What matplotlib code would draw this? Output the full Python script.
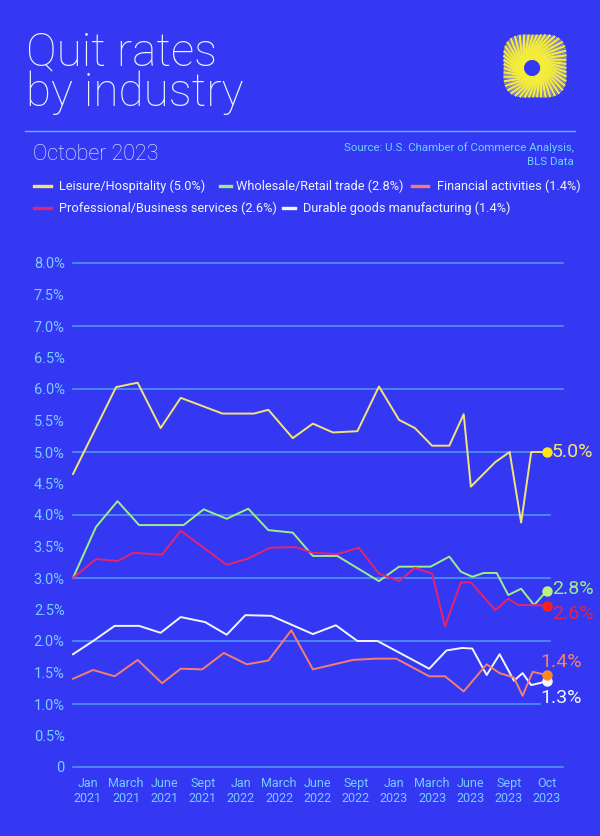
import numpy as np
import matplotlib.pyplot as plt
from matplotlib.lines import Line2D

# Colours
bg = '#3438F2'
grid_col = '#4F9CF6'
tick_col = '#78CCFF'
text_col = '#EEF4FF'

# Data: month index from Jan 2021 (0) to Oct 2023 (33), quit rate in %
leisure_x = [0, 3.0, 4.5, 6.1, 7.5, 10.4, 12.6, 13.6, 15.3, 16.7, 18.1, 19.8, 21.3, 22.7,
             23.8, 25.0, 26.2, 27.2, 27.7, 29.4, 30.4, 31.2, 31.9, 33.0]
leisure_y = [4.65, 6.03, 6.10, 5.38, 5.86, 5.61, 5.61, 5.67, 5.22, 5.45, 5.31, 5.33, 6.04, 5.51,
             5.38, 5.10, 5.10, 5.60, 4.45, 4.84, 5.00, 3.88, 5.00, 5.00]

retail_x = [0, 1.6, 3.1, 4.6, 7.7, 9.1, 10.7, 12.2, 13.6, 15.3, 16.7, 18.4, 21.3, 22.7,
            24.9, 26.2, 27.0, 27.8, 28.6, 29.5, 30.3, 31.2, 32.1, 33.0]
retail_y = [3.00, 3.81, 4.22, 3.84, 3.84, 4.09, 3.94, 4.10, 3.76, 3.72, 3.35, 3.35, 2.95, 3.18,
            3.18, 3.34, 3.10, 3.02, 3.08, 3.08, 2.73, 2.83, 2.57, 2.80]

prof_x = [0, 1.6, 3.1, 4.2, 6.2, 7.5, 10.7, 12.2, 13.7, 15.5, 16.7, 18.4, 19.9, 21.3, 22.7,
          23.8, 25.0, 25.9, 27.0, 27.7, 29.4, 30.3, 31.0, 32.1, 33.0]
prof_y = [3.00, 3.30, 3.27, 3.40, 3.37, 3.75, 3.21, 3.31, 3.48, 3.49, 3.40, 3.38, 3.48, 3.07, 2.95,
          3.16, 3.07, 2.23, 2.93, 2.93, 2.49, 2.67, 2.57, 2.57, 2.56]

durable_x = [0, 1.4, 2.9, 4.6, 6.1, 7.5, 9.2, 10.7, 12.0, 13.8, 16.7, 18.3, 19.8, 21.2,
             24.8, 26.0, 27.1, 27.8, 28.8, 29.7, 30.7, 31.3, 31.9, 33.0]
durable_y = [1.79, 2.00, 2.24, 2.24, 2.13, 2.38, 2.30, 2.10, 2.41, 2.40, 2.11, 2.25, 2.00, 2.00,
             1.56, 1.85, 1.89, 1.88, 1.46, 1.79, 1.37, 1.49, 1.30, 1.36]

fin_x = [0, 1.4, 2.9, 4.5, 6.2, 7.5, 9.0, 10.5, 12.1, 13.6, 15.2, 16.7, 19.5, 21.1, 22.5,
         24.8, 25.9, 27.2, 28.8, 29.7, 30.7, 31.3, 32.0, 33.0]
fin_y = [1.40, 1.54, 1.44, 1.70, 1.33, 1.56, 1.55, 1.81, 1.63, 1.69, 2.17, 1.55, 1.70, 1.72, 1.72,
         1.44, 1.44, 1.20, 1.63, 1.49, 1.42, 1.13, 1.51, 1.46]

tick_labels = ['Jan\n2021', 'March\n2021', 'June\n2021', 'Sept\n2021', 'Jan\n2022', 'March\n2022',
               'June\n2022', 'Sept\n2022', 'Jan\n2023', 'March\n2023', 'June\n2023', 'Sept\n2023',
               'Oct\n2023']
y_ticks = [0, 0.5, 1, 1.5, 2, 2.5, 3, 3.5, 4, 4.5, 5, 5.5, 6, 6.5, 7, 7.5, 8]
end_labels = ['5.0%', '2.8%', '2.6%', '1.4%', '1.3%']

plt.rcParams['font.family'] = ['Roboto', 'DejaVu Sans']

W, H = 600, 836
fig = plt.figure(figsize=(6, 8.36), dpi=100, facecolor=bg)

def fx(px):
    return px / W

def fy(py):
    return 1 - py / H

# Header
fig.text(fx(26), fy(30), 'Quit rates\nby industry', fontsize=33, color=text_col,
         fontweight='light', va='top', linespacing=0.9)
fig.add_artist(Line2D([fx(25), fx(575)], [fy(131), fy(131)], color='#5FB6FF', lw=1))
fig.text(fx(33), fy(160), 'October 2023', fontsize=15.5, color=text_col, fontweight='light')
fig.text(fx(574), fy(148), 'Source: U.S. Chamber of Commerce Analysis,', fontsize=8.2,
         color='#6DD0FF', ha='right', va='center')
fig.text(fx(574), fy(162), 'BLS Data', fontsize=8.2, color='#6DD0FF', ha='right', va='center')

# Legend (label, colour, handle start, handle end, text start, row y)
legend_items = [
    ('Leisure/Hospitality (5.0%)', '#F4E27A', 34, 51, 59, 186),
    ('Wholesale/Retail trade (2.8%)', '#9BEF86', 220, 231, 236, 186),
    ('Financial activities (1.4%)', '#F57F6E', 412, 428, 437, 186),
    ('Professional/Business services (2.6%)', '#E3246E', 34, 51, 59, 208),
    ('Durable goods manufacturing (1.4%)', '#F2F6FF', 283, 295, 303, 208),
]
for label, col, h0, h1, tx, py in legend_items:
    fig.add_artist(Line2D([fx(h0), fx(h1)], [fy(py), fy(py)], color=col, lw=2.4))
    fig.text(fx(tx), fy(py), label, fontsize=9.2, color=text_col, va='center')

# Logo
lax = fig.add_axes([fx(495), fy(106), fx(80), 80 / H])
lax.set_xlim(-40, 40)
lax.set_ylim(-40, 40)
lax.set_aspect('equal')
lax.axis('off')
n = 96
for i in range(n):
    th = 2 * np.pi * i / n
    c, s = np.cos(th), np.sin(th)
    r_out = 33 / (abs(c) ** 3 + abs(s) ** 3) ** (1 / 3) * (1 - 0.05 * np.cos(2 * th) ** 2)
    r_in = 9
    th2 = th + 1.0
    if i % 2:
        col, w = '#F4EC3A', 1.7
    else:
        col, w = '#9C9AC4', 0.8
    lax.plot([r_in * np.cos(th2) - 3, r_out * c], [r_in * np.sin(th2) - 2, r_out * s],
             color=col, lw=w, solid_capstyle='butt', zorder=2 if i % 2 else 1)
lax.add_patch(plt.Circle((-3, -2), 6.5, color=bg, zorder=5))

# Chart
ax = fig.add_axes([fx(73), fy(767), fx(563 - 73), (767 - 263) / H])
ax.set_facecolor(bg)
px_per_month = 474 / 33
ax.set_xlim(0, (563 - 73) / px_per_month)
ax.set_ylim(0, 8)
for s in ax.spines.values():
    s.set_visible(False)

grid_ends = {0: 563, 1: 540, 2: 550, 3: 550, 4: 550, 5: 545, 6: 563, 7: 563, 8: 563}
for g, end in grid_ends.items():
    ax.plot([0, (end - 73) / px_per_month], [g, g], color=grid_col, lw=1.1,
            clip_on=False, zorder=1)

series = [
    (leisure_x, leisure_y, '#F4E27A', '#FFE619'),
    (retail_x, retail_y, '#9BEF86', '#B8F57A'),
    (prof_x, prof_y, '#E3246E', '#FF1E1E'),
    (durable_x, durable_y, '#F2F6FF', '#F6F8FF'),
    (fin_x, fin_y, '#F57F6E', '#FF8A1E'),
]
for xs, ys, col, dot in series:
    ax.plot(xs, ys, color=col, lw=1.4, clip_on=False, zorder=3)
    ax.plot(xs[-1], ys[-1], 'o', color=dot, ms=6.5, clip_on=False, zorder=4)

# End labels
lx1 = (552 - 73) / px_per_month
lx2 = (540 - 73) / px_per_month
ax.text(lx1, 5.0, end_labels[0], color='#F4E27A', fontsize=14, va='center', clip_on=False)
ax.text(lx1, 2.83, end_labels[1], color='#9BEF86', fontsize=14, va='center', clip_on=False)
ax.text(lx1, 2.43, end_labels[2], color='#E8204A', fontsize=14, va='center', clip_on=False)
ax.text(lx2, 1.67, end_labels[3], color='#F57F6E', fontsize=14, va='center', clip_on=False)
ax.text(lx2, 1.10, end_labels[4], color='#F2F6FF', fontsize=14, va='center', clip_on=False)

ax.set_yticks(y_ticks)
ax.set_yticklabels(['0' if v == 0 else f'{v:.1f}%' for v in y_ticks])
ax.set_xticks(np.linspace(1.04, 33.0, len(tick_labels)))
ax.set_xticklabels(tick_labels, linespacing=1.25)
ax.tick_params(axis='y', length=0, pad=6, labelcolor=tick_col, labelsize=10.5)
ax.tick_params(axis='x', length=0, pad=7, labelcolor=tick_col, labelsize=9)

fig.savefig('out.png', dpi=100, facecolor=bg)
